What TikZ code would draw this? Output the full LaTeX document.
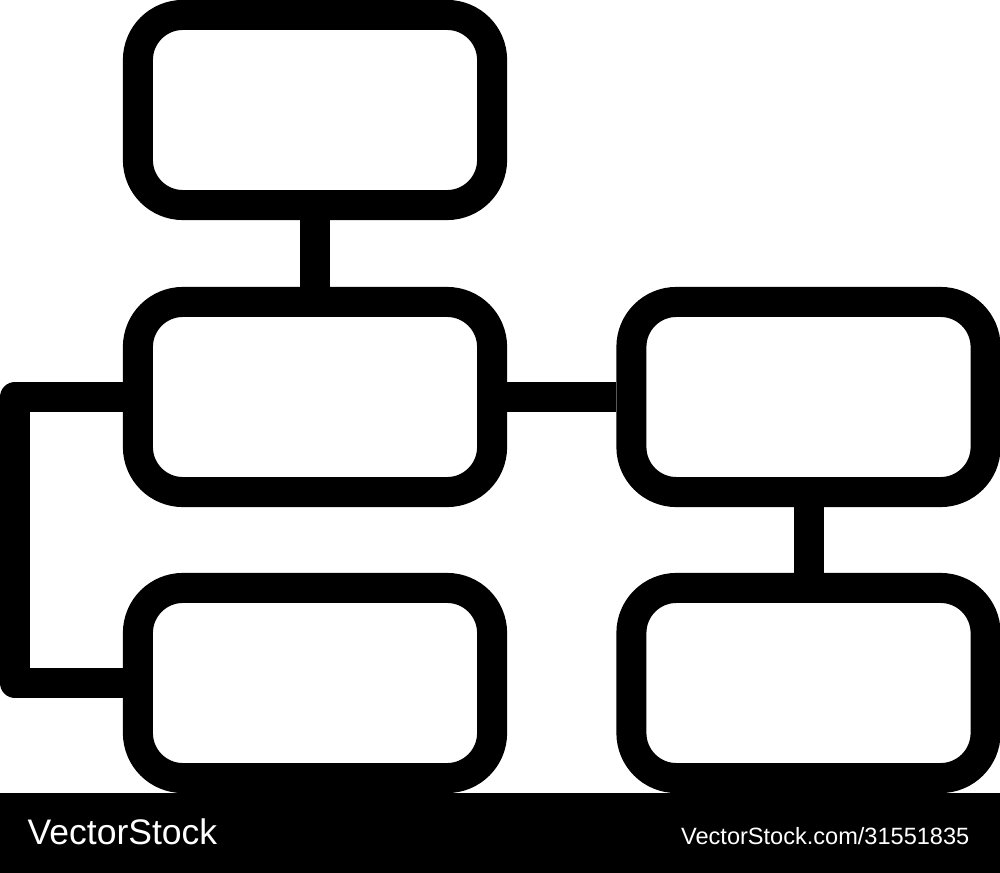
\documentclass[tikz,border=0pt]{standalone}
\usepackage{fontspec}
\setmainfont{Liberation Sans}
\begin{document}
\begin{tikzpicture}[x=0.01cm, y=-0.01cm,
chartbox/.style={draw=black, line width=0.3cm, rounded corners=0.45cm,
  minimum width=3.54cm, minimum height=1.9cm, inner sep=0pt},
link/.style={draw=black, line width=0.3cm, line join=round},
stamp/.style={text=white, inner sep=0pt}]

\useasboundingbox (0,0) rectangle (1000,873);

\foreach \n/\x/\y in
{ top/315/110,
    mid/315/397,
    low/315/683,
    rtop/808.5/397,
    rlow/808.5/683
}
{
    \node[chartbox] (\n) at (\x,\y) {};
};

\coordinate (bend) at (15,540);

\draw [link]
(top) -- (mid)
(mid) -- (rtop)
(rtop) -- (rlow)
(mid.west) -| (bend) |- (low.west);

%watermark bar
\fill[black] (0,793) rectangle (1000,873);
\node[stamp, font=\fontsize{10.1}{12}\selectfont, anchor=base west] (brand) at (27,844) {VectorStock};
\node[stamp, font=\fontsize{6.7}{8}\selectfont, anchor=base east] (stockid) at (970,844) {VectorStock.com/31551835};

\end{tikzpicture}
\end{document}
